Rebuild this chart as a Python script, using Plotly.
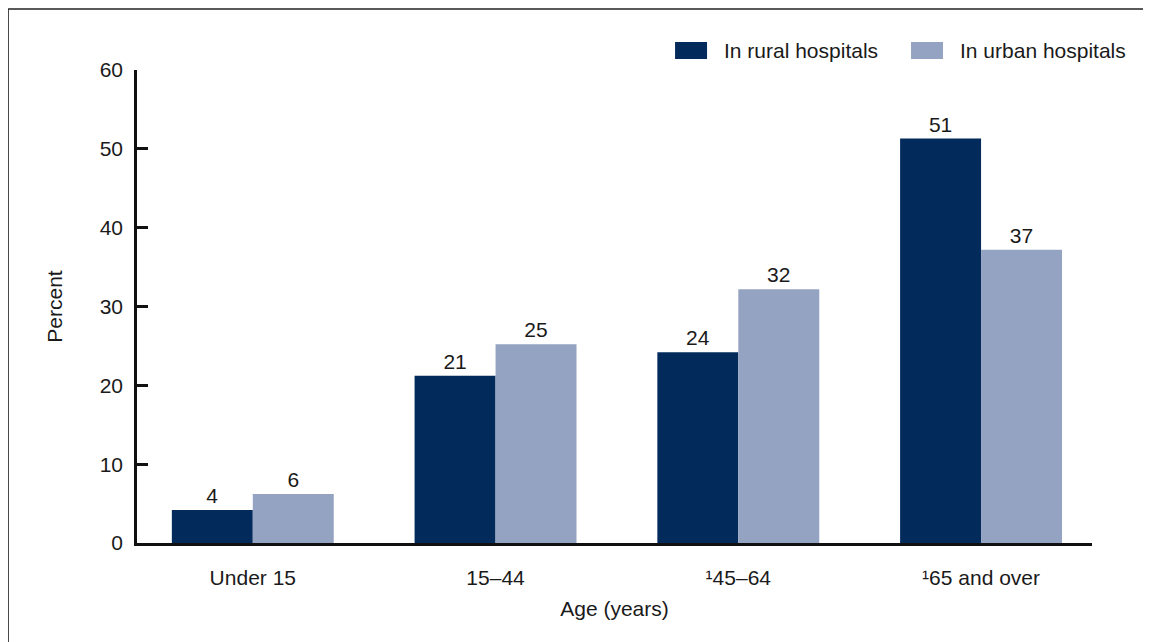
import plotly.graph_objects as go

# Age groups (x categories) and percentages per hospital type
age_groups = ["Under 15", "15–44", "¹45–64", "¹65 and over"]
rural_pct = [4.2, 21.2, 24.2, 51.3]
urban_pct = [6.2, 25.2, 32.2, 37.2]
series_names = ["In rural hospitals", "In urban hospitals"]
y_ticks = [0, 10, 20, 30, 40, 50, 60]

RURAL = "#022B5C"
URBAN = "#95A3C2"
COLORS = [RURAL, URBAN]
FONT = "Liberation Sans, Arial, sans-serif"

fig = go.Figure()

for name, vals, col in zip(series_names, [rural_pct, urban_pct], COLORS):
    fig.add_trace(go.Bar(
        x=age_groups,
        y=vals,
        name=name,
        marker=dict(color=col, line=dict(width=0)),
        texttemplate="%{y:.0f}",
        textposition="outside",
        textfont=dict(size=21, color="#1a1a1a", family=FONT),
        cliponaxis=False,
        hoverinfo="skip",
        showlegend=False,
    ))

# outer frame: only the left and top edges show in the picture
fig.add_shape(type="line", xref="paper", yref="paper",
              x0=-0.135, x1=-0.135, y0=-0.4, y1=1.129,
              line=dict(color="#222222", width=1.5))
fig.add_shape(type="line", xref="paper", yref="paper",
              x0=-0.135, x1=1.2, y0=1.129, y1=1.129,
              line=dict(color="#222222", width=1.5))

# legend drawn by hand so the swatches get the wide, flat shape of the original
legend_pos = [(0.5634, 0.5969, 0.6126), (0.8105, 0.8440, 0.8597)]
for name, col, (sx0, sx1, tx) in zip(series_names, COLORS, legend_pos):
    fig.add_shape(type="rect", xref="paper", yref="paper",
                  x0=sx0, x1=sx1, y0=1.0233, y1=1.0592,
                  fillcolor=col, line=dict(width=0))
    fig.add_annotation(xref="paper", yref="paper", x=tx, y=1.0412,
                       text=name, showarrow=False, xanchor="left", yanchor="middle",
                       font=dict(size=21, color="#1a1a1a", family=FONT))

# page body adds an 8px margin, so the figure is offset by that much
fig.update_layout(
    width=1143,
    height=634,
    barmode="group",
    bargap=0.333,
    bargroupgap=0,
    plot_bgcolor="white",
    paper_bgcolor="white",
    font=dict(family=FONT, size=21, color="#1a1a1a"),
    margin=dict(l=129, r=59, t=62, b=99),
    showlegend=False,
    xaxis=dict(
        range=[-0.477, 3.457],
        showline=True,
        linecolor="#111111",
        linewidth=2.5,
        ticks="",
        tickfont=dict(size=21),
        ticklabelstandoff=14,
        title=dict(text="Age (years)", font=dict(size=21), standoff=14),
        fixedrange=True,
    ),
    yaxis=dict(
        range=[0, 60],
        tickvals=y_ticks,
        showline=True,
        linecolor="#111111",
        linewidth=2.5,
        ticks="inside",
        ticklen=11,
        tickwidth=2.5,
        tickcolor="#111111",
        showgrid=False,
        zeroline=False,
        tickfont=dict(size=21),
        ticklabelstandoff=7,
        title=dict(text="Percent", font=dict(size=21), standoff=32),
        fixedrange=True,
    ),
)

fig.write_html(
    "out.html",
    config={"displayModeBar": False},
    post_script="document.body.style.overflow = 'hidden';",
)
